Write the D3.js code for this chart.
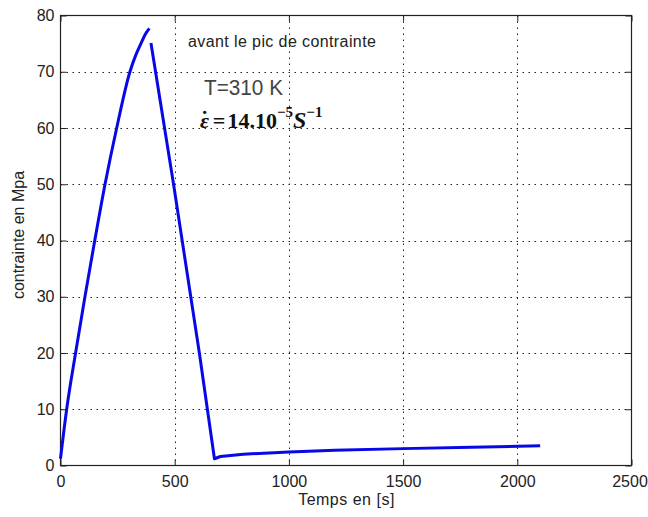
<!DOCTYPE html>
<html>
<head>
<meta charset="utf-8">
<script src="https://cdn.jsdelivr.net/npm/d3@7"></script>
<style>
  body { margin: 0; background: #fff; }
  svg { display: block; }
  .tick text { font-family: "Liberation Sans", Arial, sans-serif; font-size: 16px; fill: #222; }
</style>
</head>
<body>
<svg width="648" height="517"></svg>
<script>
"use strict";

// values
var riseT = [0, 27, 66, 107, 150, 195, 246, 304, 330, 352, 372, 389];
var riseV = [1.2, 10, 20, 30, 40, 50, 60, 70, 73, 75, 76.7, 77.7];
var fallT = [396, 495, 608, 674, 700, 800, 1000, 1200, 1500, 1800, 2100];
var fallV = [75.1, 50, 20, 1.2, 1.6, 2.0, 2.4, 2.7, 3.0, 3.25, 3.5];
var xTicks = [0, 500, 1000, 1500, 2000, 2500];
var yTicks = [0, 10, 20, 30, 40, 50, 60, 70, 80];

var svg = d3.select("svg");
var pLeft = 60.5, pRight = 631.5, pTop = 15.5, pBottom = 465.5;

var x = d3.scaleLinear().domain([0, 2500]).range([pLeft, pRight]);
var y = d3.scaleLinear().domain([0, 80]).range([pBottom, pTop]);

// dotted grid
var grid = svg.append("g")
    .attr("stroke", "#222")
    .attr("stroke-width", 1)
    .attr("stroke-dasharray", "1.5,4.5");
grid.selectAll("line.gx").data(xTicks.slice(1, -1)).enter()
    .append("line")
    .attr("x1", function(d) { return Math.round(x(d)) + 0.5; })
    .attr("x2", function(d) { return Math.round(x(d)) + 0.5; })
    .attr("y1", pTop).attr("y2", pBottom);
grid.selectAll("line.gy").data(yTicks.slice(1, -1)).enter()
    .append("line")
    .attr("y1", function(d) { return Math.round(y(d)) + 0.5; })
    .attr("y2", function(d) { return Math.round(y(d)) + 0.5; })
    .attr("x1", pLeft).attr("x2", pRight);

// axes (ticks inside, matlab style)
var fmt = d3.format("d");
var gx = svg.append("g")
    .attr("transform", "translate(0," + pBottom + ")")
    .call(d3.axisBottom(x).tickValues(xTicks).tickFormat(fmt).tickSize(-6).tickPadding(10));
// last label would touch the window edge
gx.selectAll(".tick text").filter(function(d) { return d == 2500; }).attr("dx", -2);
svg.append("g")
    .attr("transform", "translate(" + pLeft + ",0)")
    .call(d3.axisLeft(y).tickValues(yTicks).tickFormat(fmt).tickSize(-6).tickPadding(6));
svg.append("g")
    .attr("transform", "translate(0," + pTop + ")")
    .call(d3.axisTop(x).tickValues(xTicks).tickSize(-6).tickFormat(""));
svg.append("g")
    .attr("transform", "translate(" + pRight + ",0)")
    .call(d3.axisRight(y).tickValues(yTicks).tickSize(-6).tickFormat(""));
svg.selectAll(".domain").remove();
svg.selectAll(".tick line").attr("stroke", "#222");

svg.append("rect")
    .attr("x", pLeft).attr("y", pTop)
    .attr("width", pRight - pLeft).attr("height", pBottom - pTop)
    .attr("fill", "none").attr("stroke", "#222").attr("stroke-width", 1.2);

// curves
var rise = d3.zip(riseT, riseV);
var fall = d3.zip(fallT, fallV);

var smooth = d3.line()
    .x(function(d) { return x(d[0]); })
    .y(function(d) { return y(d[1]); })
    .curve(d3.curveMonotoneX);
var straight = d3.line()
    .x(function(d) { return x(d[0]); })
    .y(function(d) { return y(d[1]); });

svg.append("path")
    .attr("d", smooth(rise))
    .attr("fill", "none")
    .attr("stroke", "#0808e6")
    .attr("stroke-width", 3);
svg.append("path")
    .attr("d", straight(fall))
    .attr("fill", "none")
    .attr("stroke", "#0808e6")
    .attr("stroke-width", 3)
    .attr("stroke-linejoin", "round");

// labels
svg.append("text")
    .attr("x", (pLeft + pRight) / 2 + 0.5)
    .attr("y", 505)
    .attr("text-anchor", "middle")
    .style("font-family", "Liberation Sans, Arial, sans-serif")
    .style("font-size", "16px")
    .style("letter-spacing", "0.5px")
    .attr("fill", "#222")
    .text("Temps en [s]");

svg.append("text")
    .attr("transform", "translate(24,235) rotate(-90)")
    .attr("text-anchor", "middle")
    .style("font-family", "Liberation Sans, Arial, sans-serif")
    .style("font-size", "16px")
    .attr("fill", "#222")
    .text("contrainte en Mpa");

// annotations
svg.append("text")
    .attr("x", 188).attr("y", 47)
    .style("font-family", "Liberation Sans, Arial, sans-serif")
    .style("font-size", "16px")
    .style("letter-spacing", "0.4px")
    .attr("fill", "#222")
    .text("avant le pic de contrainte");

svg.append("text")
    .attr("x", 204).attr("y", 95)
    .attr("textLength", 79)
    .attr("lengthAdjust", "spacingAndGlyphs")
    .style("font-family", "Liberation Sans, Arial, sans-serif")
    .style("font-size", "22px")
    .attr("fill", "#444")
    .text("T=310 K");

// strain rate; the dot accent sits over the epsilon on purpose
var eq = svg.append("text")
    .attr("x", 200).attr("y", 128)
    .style("font-family", "Liberation Serif, Times New Roman, serif")
    .style("font-weight", "bold")
    .style("font-style", "italic")
    .style("font-size", "22px")
    .attr("fill", "#111");
eq.append("tspan").text("ε");
eq.append("tspan").attr("dx", -8).attr("dy", -2).style("font-style", "normal").text("˙");
eq.append("tspan").attr("dx", 4.5).attr("dy", 2).style("font-style", "normal").text("=");
eq.append("tspan").attr("dx", 2).style("font-style", "normal").text("14.10");
eq.append("tspan").attr("dy", -11).style("font-size", "15px").style("font-style", "normal").text("−5");
eq.append("tspan").attr("dy", 11).style("font-size", "24px").text("S");
eq.append("tspan").attr("dy", -11).style("font-size", "15px").style("font-style", "normal").text("−1");
</script>
</body>
</html>
